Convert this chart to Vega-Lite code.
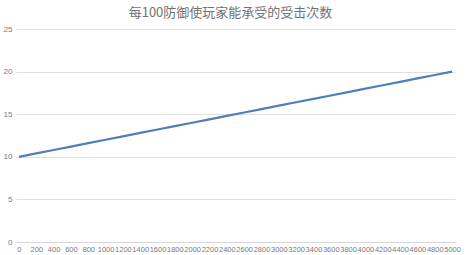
{
  "$schema": "https://vega.github.io/schema/vega-lite/v6.json",
  "autosize": {"type": "none"},
  "padding": {"left": 16, "top": 29, "right": 13, "bottom": 13},
  "width": 439,
  "height": 213,
  "background": "#ffffff",
  "title": {
    "text": "每100防御使玩家能承受的受击次数",
    "font": "Noto Sans CJK SC",
    "fontSize": 13,
    "fontWeight": "normal",
    "color": "#727272",
    "offset": 5,
    "dx": -5
  },
  "data": {
    "values": [
      {"defense": "0", "hits": 10.0},
      {"defense": "200", "hits": 10.4},
      {"defense": "400", "hits": 10.8},
      {"defense": "600", "hits": 11.2},
      {"defense": "800", "hits": 11.6},
      {"defense": "1000", "hits": 12.0},
      {"defense": "1200", "hits": 12.4},
      {"defense": "1400", "hits": 12.8},
      {"defense": "1600", "hits": 13.2},
      {"defense": "1800", "hits": 13.6},
      {"defense": "2000", "hits": 14.0},
      {"defense": "2200", "hits": 14.4},
      {"defense": "2400", "hits": 14.8},
      {"defense": "2600", "hits": 15.2},
      {"defense": "2800", "hits": 15.6},
      {"defense": "3000", "hits": 16.0},
      {"defense": "3200", "hits": 16.4},
      {"defense": "3400", "hits": 16.8},
      {"defense": "3600", "hits": 17.2},
      {"defense": "3800", "hits": 17.6},
      {"defense": "4000", "hits": 18.0},
      {"defense": "4200", "hits": 18.4},
      {"defense": "4400", "hits": 18.8},
      {"defense": "4600", "hits": 19.2},
      {"defense": "4800", "hits": 19.6},
      {"defense": "5000", "hits": 20.0}
    ]
  },
  "mark": {"type": "line", "color": "#4f7fb8", "strokeWidth": 2.2},
  "encoding": {
    "x": {
      "field": "defense",
      "type": "ordinal",
      "sort": null,
      "scale": {"type": "point", "padding": 0.17},
      "axis": {
        "title": null,
        "labelAngle": 0,
        "labelOverlap": false,
        "labelFontSize": 7.5,
        "labelColor": "#7a7a7a",
        "labelFont": "Liberation Sans",
        "labelPadding": 3,
        "ticks": false,
        "domainColor": "#d9d9d9",
        "grid": false
      }
    },
    "y": {
      "field": "hits",
      "type": "quantitative",
      "scale": {"domain": [0, 25], "nice": false},
      "axis": {
        "title": null,
        "values": [0, 5, 10, 15, 20, 25],
        "labelFontSize": 8,
        "labelColor": "#7a7a7a",
        "labelFont": "Liberation Sans",
        "labelPadding": 4,
        "ticks": false,
        "domain": false,
        "gridColor": "#e0e0e0",
        "gridWidth": 1
      }
    }
  },
  "config": {"view": {"stroke": null}}
}
